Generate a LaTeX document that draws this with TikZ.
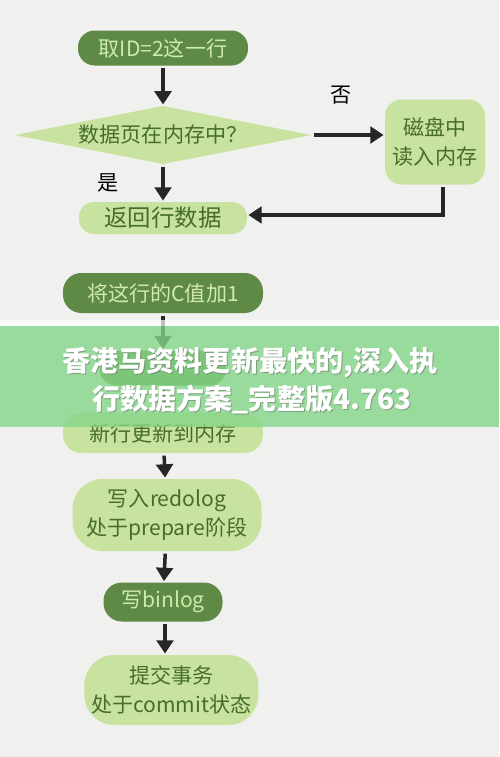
\documentclass[tikz,border=0pt]{standalone}
\usepackage{fontspec}
\setmainfont{Noto Sans CJK SC}
\usetikzlibrary{positioning,shapes.geometric,arrows.meta}

\definecolor{paper}{RGB}{240,240,238}
\definecolor{darkleaf}{RGB}{94,138,70}
\definecolor{lightleaf}{RGB}{200,226,160}
\definecolor{leafink}{RGB}{70,110,42}
\definecolor{paleink}{RGB}{208,234,170}
\definecolor{adband}{RGB}{132,214,136}

\tikzset{
  darkblob/.style={draw=none, fill=darkleaf, text=paleink, rounded corners=#1, align=center},
  darkblob/.default=0.5cm,
  lightblob/.style={draw=none, fill=lightleaf, text=leafink, rounded corners=#1, align=center},
  lightblob/.default=0.5cm,
  flow/.style={-{Triangle[width=0.5cm,length=0.4cm]}, line width=3pt, black!85, shorten <=2pt, shorten >=1pt},
  answer/.style={text=black, font=\fontsize{18}{20}\selectfont},
}

\begin{document}
\begin{tikzpicture}[node distance=2.5cm, on grid, font=\fontsize{18}{25}\selectfont]
  \fill[paper] (0,0) rectangle (14.97,-22.71);
  \useasboundingbox (0,0) rectangle (14.97,-22.71);

  \node[darkblob, minimum width=5.1cm, minimum height=1.05cm] (fetch) at (4.89,-1.44) {取ID=2这一行};
  \node[diamond, aspect=4.36, fill=lightleaf, text=leafink, inner sep=0pt, minimum width=8.9cm] (inmem) [below=2.61cm of fetch] {数据页在内存中？};
  \node[lightblob, minimum width=3cm, minimum height=2.55cm] (disk) [right=8.16cm of inmem, yshift=-0.21cm] {磁盘中\\读入内存};
  \node[lightblob=0.45cm, minimum width=5.04cm, minimum height=0.96cm, font=\fontsize{20}{24}\selectfont] (ret) [below=2.49cm of inmem] {返回行数据};
  \node[darkblob=0.55cm, minimum width=6cm, minimum height=1.2cm] (inc) [below=2.25cm of ret] {将这行的C值加1};
  \node[darkblob, minimum width=3.8cm, minimum height=1.05cm] (newrow) [below=2.25cm of inc] {};
  \node[lightblob=0.55cm, minimum width=6cm, minimum height=1.2cm] (mem) [below=1.95cm of newrow] {新行更新到内存};
  \node[lightblob=0.9cm, minimum width=5.67cm, minimum height=2.16cm] (redo) [below=2.46cm of mem, xshift=0.12cm] {写入redolog\\处于prepare阶段};
  \node[darkblob=0.55cm, minimum width=3.57cm, minimum height=1.17cm] (binlog) [below=2.61cm of redo, xshift=-0.12cm] {写binlog};
  \node[lightblob=0.9cm, minimum width=5.22cm, minimum height=2.1cm] (commit) [below=2.64cm of binlog, xshift=0.25cm] {提交事务\\处于commit状态};

  \draw[flow] (fetch) -- (inmem);
  \draw[flow] (inmem.east) -- (inmem.east -| disk.west)
    node[answer, above=0.75cm, pos=0.4] (no) {否};
  \draw[flow] (inmem) -- (ret)
    node[answer, left=1.15cm, pos=0.5] (yes) {是};
  \draw[flow] ([xshift=0.24cm]disk.south) |- ([yshift=0.09cm]ret.east);
  \draw[flow] (inc) -- (newrow);
  \draw[flow] (newrow) -- (mem);
  \draw[flow] (mem) -- (redo);
  \draw[flow] (redo) -- (binlog);
  \draw[flow] ([xshift=0.06cm]binlog.south) -- ([xshift=-0.19cm]commit.north);

  % overlay band
  \fill[white, opacity=0.7] (0,-9.6) rectangle (14.97,-9.78);
  \fill[adband, opacity=0.8] (0,-9.78) rectangle (14.97,-12.81);
  \node[text=black!60, opacity=0.5, font=\fontsize{24}{28}\bfseries] at (7.53,-10.92) {香港马资料更新最快的,深入执};
  \node[text=white, font=\fontsize{24}{28}\bfseries] (ad1) at (7.5,-10.89) {香港马资料更新最快的,深入执};
  \node[text=black!60, opacity=0.5, font=\fontsize{24}{28}\bfseries] at (7.59,-12.03) {行数据方案\_完整版4.763};
  \node[text=white, font=\fontsize{24}{28}\bfseries] (ad2) at (7.56,-12.0) {行数据方案\_完整版4.763};
\end{tikzpicture}
\end{document}
